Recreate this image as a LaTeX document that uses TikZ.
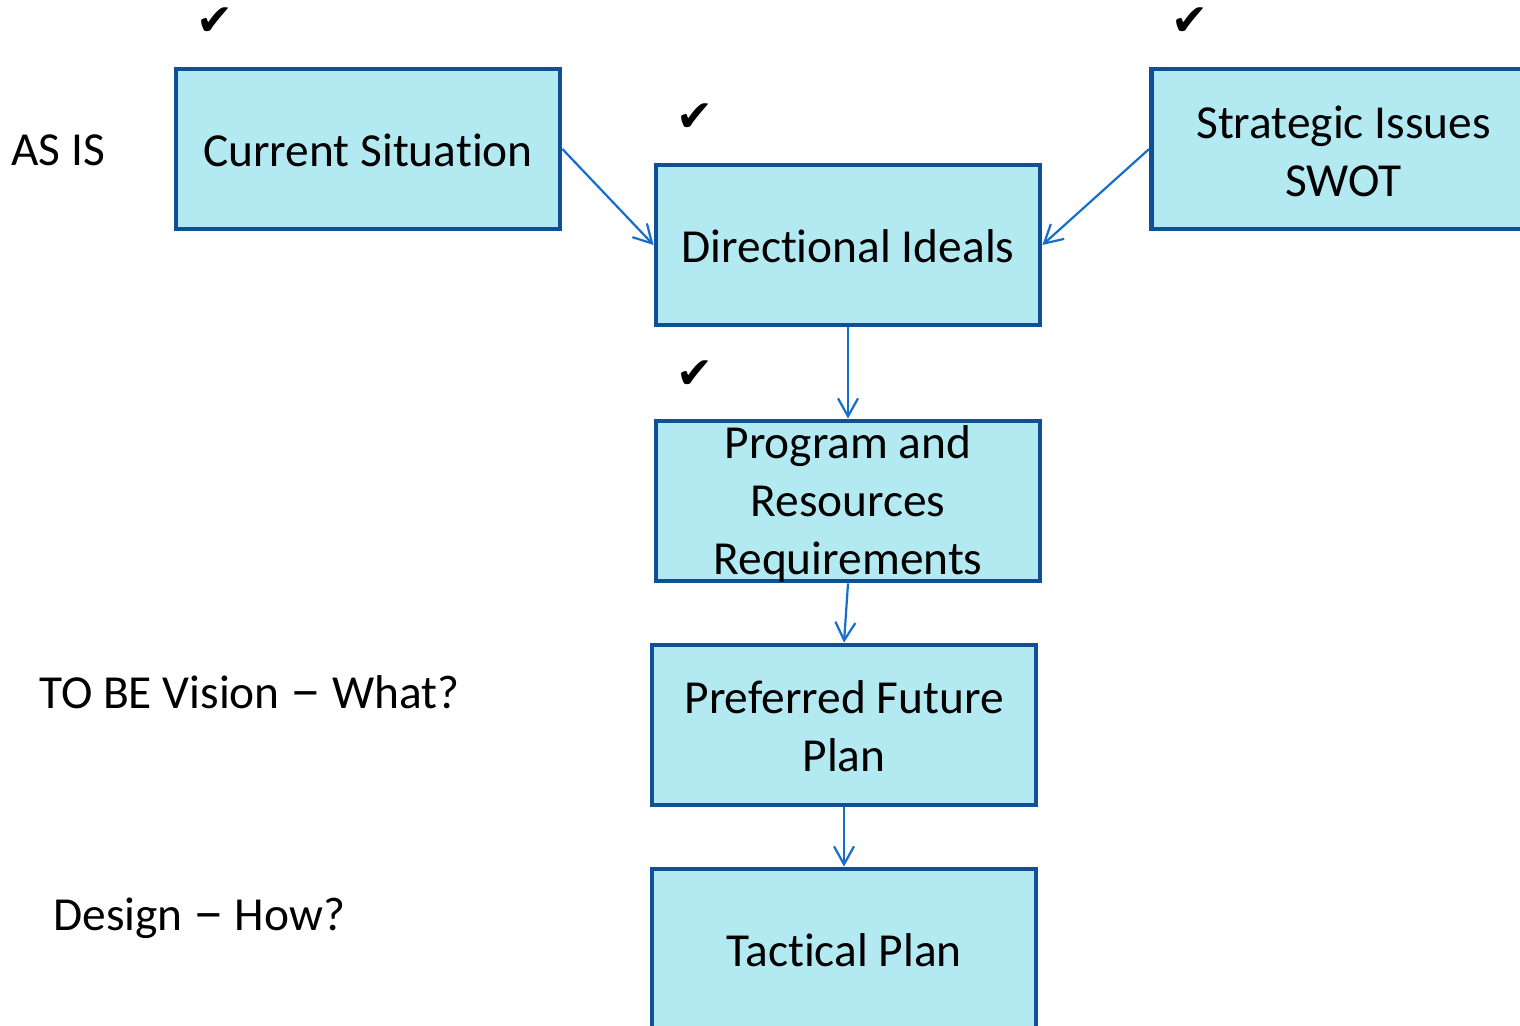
\documentclass[tikz,border=0pt]{standalone}
\usepackage{fontspec}
\usepackage{graphicx}
\setmainfont{Carlito}[Ligatures={NoCommon,NoContextual},RawFeature={-liga;-calt;-clig}]
\newfontfamily\symfont{DejaVu Sans}
\usetikzlibrary{arrows.meta}
\definecolor{boxfill}{RGB}{179,234,242}
\definecolor{boxline}{RGB}{16,80,150}
\definecolor{arrowcol}{RGB}{22,110,204}
\newcommand{\widedash}{\scalebox{1.3}[1.15]{–}}
\begin{document}
\begin{tikzpicture}[x=0.5pt,y=-0.5pt,
  stepbox/.style={draw=boxline,fill=boxfill,line width=2.4pt,minimum width=192pt,minimum height=80pt,inner sep=0pt},
  boxtext/.style={font=\fontsize{23.7}{29}\selectfont,align=center,inner sep=0pt},
  sidetext/.style={font=\fontsize{23.7}{29}\selectfont,anchor=west,inner sep=0pt},
  checkmark/.style={font=\symfont\fontsize{22}{22}\selectfont,inner sep=0pt},
  conn/.style={draw=arrowcol,line width=1.1pt,-{Straight Barb[length=9pt,width=10pt]}}]
\clip (0,0) rectangle (1520,1026);
\useasboundingbox (0,0) rectangle (1520,1026);
\node[stepbox] (cs) at (368,149) {};
\node[boxtext] (cst) at (368,150) {Current Situation};
\node[stepbox] (di) at (848,245) {};
\node[boxtext] (dit) at (848,246) {Directional Ideals};
\node[stepbox] (si) at (1343.5,149) {};
\node[boxtext] (sit) at (1343.5,151) {Strategic Issues\\SWOT};
\node[stepbox] (pr) at (848,501) {};
\node[boxtext] (prt) at (848,504) {Program and\\Resources\\Requirements};
\node[stepbox] (pf) at (844,725) {};
\node[boxtext] (pft) at (844,726) {Preferred Future\\Plan};
\node[stepbox] (tp) at (844,949) {};
\node[boxtext] (tpt) at (844,950) {Tactical Plan};
\node[sidetext] (asis) at (11,150) {AS IS};
\node[sidetext] (tobe) at (39,692) {TO BE Vision \widedash{} What?};
\node[sidetext] (design) at (53,918) {Design \widedash{} How?};
\node[checkmark] (c1) at (215,22) {✔};
\node[checkmark] (c2) at (695,118) {✔};
\node[checkmark] (c3) at (1190,22) {✔};
\node[checkmark] (c4) at (695,375) {✔};
\draw[conn] (cs.east) -- (di.west);
\draw[conn] (si.west) -- (di.east);
\draw[conn] (di.south) -- (pr.north);
\draw[conn] (pr.south) -- (pf.north);
\draw[conn] (pf.south) -- (tp.north);
\end{tikzpicture}
\end{document}
